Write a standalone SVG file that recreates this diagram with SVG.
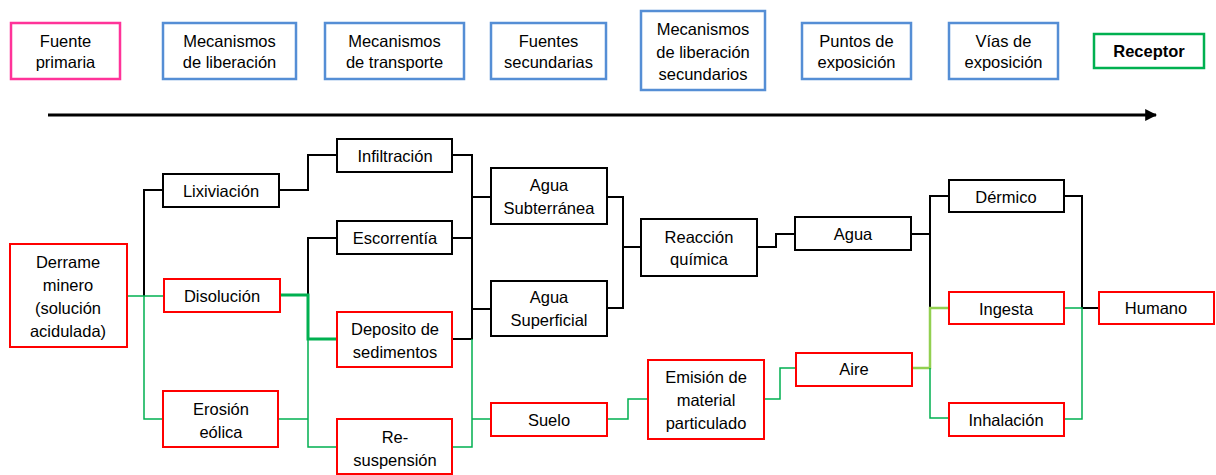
<svg xmlns="http://www.w3.org/2000/svg" width="1216" height="475" viewBox="0 0 1216 475">
<style>
text{font-family:"Liberation Sans",Arial,sans-serif;font-size:16.5px;fill:#000;text-anchor:middle;dominant-baseline:central}
.b{fill:#fff;stroke-width:2}
.blue{stroke:#558ed5;stroke-width:2.5}
.pink{stroke:#ff3399;stroke-width:2.5}
.grn{stroke:#00b050;stroke-width:2.5}
.red{stroke:#ff0000}
.blk{stroke:#000}
.cb{fill:none;stroke:#000;stroke-width:2}
.cg{fill:none;stroke:#00b050;stroke-width:1.5}
.cgt{fill:none;stroke:#00b050;stroke-width:3}
.clg{fill:none;stroke:#92d050;stroke-width:2.5}
</style>
<defs>
<marker id="ah" viewBox="0 0 10 10" refX="9" refY="5" markerWidth="4" markerHeight="4" orient="auto"><path d="M0,0 L10,5 L0,10 z" fill="#000"/></marker>
</defs>

<g id="header">
<g id="h-fuente-primaria"><rect class="b pink" x="11" y="23" width="109" height="56"/><text x="65.5" y="41">Fuente</text><text x="65.5" y="62">primaria</text></g>
<g id="h-mec-liberacion"><rect class="b blue" x="163" y="23" width="133" height="56"/><text x="229.5" y="41">Mecanismos</text><text x="229.5" y="62">de liberación</text></g>
<g id="h-mec-transporte"><rect class="b blue" x="325" y="23" width="139" height="56"/><text x="394.5" y="41">Mecanismos</text><text x="394.5" y="62">de transporte</text></g>
<g id="h-fuentes-sec"><rect class="b blue" x="491" y="23" width="115" height="56"/><text x="548.5" y="41">Fuentes</text><text x="548.5" y="62">secundarias</text></g>
<g id="h-mec-lib-sec"><rect class="b blue" x="641" y="11" width="124" height="79"/><text x="703" y="29">Mecanismos</text><text x="703" y="52">de liberación</text><text x="703" y="74">secundarios</text></g>
<g id="h-puntos"><rect class="b blue" x="802" y="23" width="109" height="56"/><text x="856.5" y="41">Puntos de</text><text x="856.5" y="62">exposición</text></g>
<g id="h-vias"><rect class="b blue" x="949" y="23" width="109" height="56"/><text x="1003.5" y="41">Vías de</text><text x="1003.5" y="62">exposición</text></g>
<g id="h-receptor"><rect class="b grn" x="1094" y="34" width="110" height="34"/><text x="1149" y="51" font-weight="bold">Receptor</text></g>
</g>

<g id="timeline"><line x1="48" y1="115" x2="1156" y2="115" stroke="#000" stroke-width="3" marker-end="url(#ah)"/></g>

<g id="connectors">
<path class="cb" d="M144,296 V190 H163"/>
<path class="cb" d="M279,190 H308 V155 H337"/>
<path class="cb" d="M308,295 V238 H337"/>
<path class="cb" d="M452,155 H472 V339 H452"/>
<path class="cb" d="M452,238 H472"/>
<path class="cb" d="M472,197 H491"/>
<path class="cb" d="M472,309 H491"/>
<path class="cb" d="M607,197 H623 V308 H607"/>
<path class="cb" d="M623,247 H641"/>
<path class="cb" d="M757,247 H776 V234 H795"/>
<path class="cb" d="M911,234 H930"/>
<path class="cb" d="M949,196 H930 V308"/>
<path class="cb" d="M1064,196 H1082 V308 H1099"/>
<path class="cg" d="M127,296 H164"/>
<path class="cg" d="M144,296 V419 H163"/>
<path class="cgt" d="M280,295 H308 V339 H337"/>
<path class="cg" d="M308,339 V447 H337"/>
<path class="cg" d="M278,419 H308"/>
<path class="cg" d="M472,339 V447 H452"/>
<path class="cg" d="M472,419 H491"/>
<path class="cg" d="M607,419 H628 V399 H648"/>
<path class="cg" d="M764,399 H780 V368 H796"/>
<path class="clg" d="M912,368 H930 V308 H949"/>
<path class="cg" d="M930,368 V418 H949"/>
<path class="cg" d="M1064,308 H1082 V419 H1064"/>
</g>

<g id="n-derrame"><rect class="b red" x="10" y="244" width="117" height="103"/><text x="68" y="262">Derrame</text><text x="68" y="285">minero</text><text x="68" y="308">(solución</text><text x="68" y="331">acidulada)</text></g>
<g id="n-lixiviacion"><rect class="b blk" x="163" y="174" width="116" height="33"/><text x="221" y="191">Lixiviación</text></g>
<g id="n-disolucion"><rect class="b red" x="164" y="279" width="116" height="33"/><text x="222" y="296">Disolución</text></g>
<g id="n-erosion"><rect class="b red" x="163" y="391" width="115" height="56"/><text x="221" y="409">Erosión</text><text x="221" y="432">eólica</text></g>
<g id="n-infiltracion"><rect class="b blk" x="337" y="139" width="115" height="33"/><text x="395" y="156">Infiltración</text></g>
<g id="n-escorrentia"><rect class="b blk" x="337" y="221" width="115" height="33"/><text x="395" y="238">Escorrentía</text></g>
<g id="n-deposito"><rect class="b red" x="337" y="312" width="115" height="55"/><text x="395" y="329">Deposito de</text><text x="395" y="352">sedimentos</text></g>
<g id="n-resuspension"><rect class="b red" x="337" y="419" width="115" height="55"/><text x="395" y="437">Re-</text><text x="395" y="460">suspensión</text></g>
<g id="n-agua-subterranea"><rect class="b blk" x="491" y="168" width="116" height="56"/><text x="549" y="185">Agua</text><text x="549" y="208">Subterránea</text></g>
<g id="n-agua-superficial"><rect class="b blk" x="491" y="281" width="116" height="55"/><text x="549" y="297">Agua</text><text x="549" y="320">Superficial</text></g>
<g id="n-suelo"><rect class="b red" x="491" y="403" width="116" height="33"/><text x="549" y="420">Suelo</text></g>
<g id="n-reaccion"><rect class="b blk" x="641" y="219" width="116" height="57"/><text x="699" y="237">Reacción</text><text x="699" y="259">química</text></g>
<g id="n-emision"><rect class="b red" x="648" y="360" width="116" height="79"/><text x="706" y="377">Emisión de</text><text x="706" y="400">material</text><text x="706" y="423">particulado</text></g>
<g id="n-agua"><rect class="b blk" x="795" y="217" width="116" height="33"/><text x="853" y="234">Agua</text></g>
<g id="n-aire"><rect class="b red" x="796" y="353" width="116" height="33"/><text x="854" y="369">Aire</text></g>
<g id="n-dermico"><rect class="b blk" x="949" y="180" width="115" height="32"/><text x="1006" y="197">Dérmico</text></g>
<g id="n-ingesta"><rect class="b red" x="949" y="292" width="115" height="32"/><text x="1006" y="309">Ingesta</text></g>
<g id="n-inhalacion"><rect class="b red" x="949" y="403" width="115" height="33"/><text x="1006" y="420">Inhalación</text></g>
<g id="n-humano"><rect class="b red" x="1099" y="292" width="115" height="32"/><text x="1156" y="308">Humano</text></g>
</svg>
